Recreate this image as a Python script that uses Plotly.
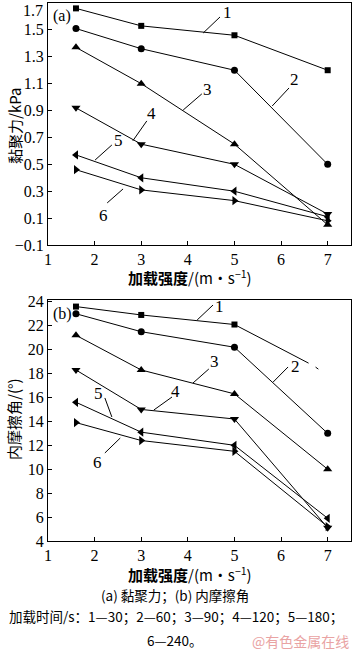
import plotly.graph_objects as go

# ---------------- data ----------------
speed = [1.6, 3, 5, 7]
series_names = ["1", "2", "3", "4", "5", "6"]
cohesion = {
    "1": [1.66, 1.53, 1.46, 1.20],
    "2": [1.51, 1.36, 1.20, 0.50],
    "3": [1.37, 1.10, 0.65, 0.05],
    "4": [0.92, 0.65, 0.50, 0.13],
    "5": [0.57, 0.40, 0.30, 0.11],
    "6": [0.46, 0.31, 0.23, 0.08],
}
friction = {
    "1": [23.6, 22.9, 22.1],
    "2": [23.0, 21.5, 20.2, 13.0],
    "3": [21.2, 18.3, 16.3, 10.0],
    "4": [18.3, 15.0, 14.2, 5.1],
    "5": [15.6, 13.1, 12.0, 5.9],
    "6": [13.9, 12.4, 11.5, 5.2],
}
# broken tail of curve 1 in panel (b)
friction1_tail_x = [5, 6.59]
friction1_tail_y = [22.1, 18.87]
friction1_dash_x = [6.74, 6.80]
friction1_dash_y = [18.54, 18.37]

x_ticks = [1, 2, 3, 4, 5, 6, 7]
ya_ticks = [-0.1, 0.1, 0.3, 0.5, 0.7, 0.9, 1.1, 1.3, 1.5, 1.7]
yb_ticks = [4, 6, 8, 10, 12, 14, 16, 18, 20, 22, 24]

symbols = {"1": "square", "2": "circle", "3": "triangle-up", "4": "triangle-down",
           "5": "triangle-left", "6": "triangle-right"}
msize = {"1": 6, "2": 7, "3": 8, "4": 8, "5": 8, "6": 8}

# curve labels: (text_x, text_y, leader x0, y0, x1, y1)
labels_a = {
    "1": (4.84, 1.63, 4.33, 1.477, 4.69, 1.596),
    "2": (6.28, 1.13, 5.81, 0.934, 6.17, 1.068),
    "3": (4.43, 1.06, 3.90, 0.904, 4.30, 1.024),
    "4": (3.21, 0.88, 2.82, 0.675, 3.12, 0.823),
    "5": (2.52, 0.68, 2.01, 0.532, 2.37, 0.644),
    "6": (2.18, 0.12, 2.27, 0.213, 2.61, 0.317),
}
labels_b = {
    "1": (4.67, 23.6, 4.20, 22.48, 4.54, 23.73),
    "2": (6.30, 18.6, 5.83, 17.29, 6.15, 18.55),
    "3": (4.58, 19.0, 4.11, 17.21, 4.45, 18.38),
    "4": (3.73, 16.5, 3.27, 14.95, 3.66, 16.04),
    "5": (2.09, 16.3, 2.22, 15.96, 2.37, 14.37),
    "6": (2.07, 10.6, 2.22, 11.36, 2.55, 12.61),
}

FONT = "Times New Roman, Liberation Serif, DejaVu Serif, serif"
CJK = "Noto Sans CJK SC"

fig = go.Figure()

for s in series_names:
    fig.add_trace(go.Scatter(
        x=speed, y=cohesion[s], mode="lines+markers", xaxis="x", yaxis="y",
        line=dict(color="black", width=1),
        marker=dict(symbol=symbols[s], size=msize[s], color="black"),
        showlegend=False, cliponaxis=False))

for s in series_names:
    ys = friction[s]
    fig.add_trace(go.Scatter(
        x=speed[:len(ys)], y=ys, mode="lines+markers", xaxis="x2", yaxis="y2",
        line=dict(color="black", width=1),
        marker=dict(symbol=symbols[s], size=msize[s], color="black"),
        showlegend=False, cliponaxis=False))

fig.add_trace(go.Scatter(x=friction1_tail_x, y=friction1_tail_y, mode="lines",
                         xaxis="x2", yaxis="y2", line=dict(color="black", width=1),
                         showlegend=False))
fig.add_trace(go.Scatter(x=friction1_dash_x, y=friction1_dash_y, mode="lines",
                         xaxis="x2", yaxis="y2", line=dict(color="black", width=1),
                         showlegend=False))

shapes = []
annotations = []
for labels, xr, yr in ((labels_a, "x", "y"), (labels_b, "x2", "y2")):
    for s, (tx, ty, x0, y0, x1, y1) in labels.items():
        shapes.append(dict(type="line", xref=xr, yref=yr, x0=x0, y0=y0, x1=x1, y1=y1,
                           line=dict(color="black", width=1)))
        annotations.append(dict(text=s, x=tx, y=ty, xref=xr, yref=yr, showarrow=False,
                                font=dict(family=FONT, size=17, color="black")))

def paper_x(px):
    return px / 356.0

def paper_y(py):
    return 1 - py / 652.0

def txt(text, px, py, size, family=CJK, color="black", angle=0, xanchor="center"):
    annotations.append(dict(text=text, x=paper_x(px), y=paper_y(py), xref="paper",
                            yref="paper", showarrow=False, textangle=angle,
                            xanchor=xanchor, yanchor="middle",
                            font=dict(family=family, size=size, color=color)))

# top tick label of panel (a) sits slightly below its tick, as in the original
ya_ticktext = [f"{v:.1f}".replace("-", "−") for v in ya_ticks]
top_label = ya_ticktext[-1]
ya_ticktext[-1] = ""
txt(top_label, 45, 10, 16, FONT, xanchor="right")

txt("(a)", 62, 16, 16, FONT)
txt("(b)", 62, 314, 16, FONT)
txt("黏聚力/kPa", 14, 126, 15, angle=-90)
txt("内摩擦角/(°)", 14, 419, 15, angle=-90)
txt("<b>加载强度</b>/(m•s<sup>−1</sup>)", 190, 277, 15)
txt("<b>加载强度</b>/(m•s<sup>−1</sup>)", 190, 574, 15)
txt("(a) 黏聚力；(b) 内摩擦角", 175, 595, 13.5)
txt("加载时间/s：1—30；2—60；3—90；4—120；5—180；", 176, 616, 13.5)
txt("6—240。", 175, 640, 13.5)
txt("@有色金属在线", 250, 641, 14, color="#e9a3a3", xanchor="left")

axis_common = dict(showline=True, linecolor="black", linewidth=1, mirror=True,
                   ticks="inside", ticklen=4, tickcolor="black", showgrid=False,
                   zeroline=False, automargin=False, ticklabeloverflow="allow",
                   tickfont=dict(family=FONT, size=16, color="black"))

xd = [48 / 356, 351 / 356]
fig.update_layout(
    width=356, height=652,
    margin=dict(l=0, r=0, t=0, b=0, autoexpand=False),
    paper_bgcolor="white", plot_bgcolor="white",
    xaxis=dict(domain=xd, range=[1, 7.5], tickvals=x_ticks, anchor="y", **axis_common),
    yaxis=dict(domain=[1 - 245 / 652, 1 - 3 / 652], range=[-0.1, 1.7],
               tickvals=ya_ticks, ticktext=ya_ticktext, anchor="x", **axis_common),
    xaxis2=dict(domain=xd, range=[1, 7.5], tickvals=x_ticks, anchor="y2", **axis_common),
    yaxis2=dict(domain=[1 - 541 / 652, 1 - 300 / 652], range=[4, 24.15],
                tickvals=yb_ticks, anchor="x2", **axis_common),
    shapes=shapes,
    annotations=annotations,
)

fig.write_html("out.html",
               config={"displayModeBar": False},
               post_script="document.body.style.margin='0px';"
                           "document.documentElement.style.overflow='hidden';")
